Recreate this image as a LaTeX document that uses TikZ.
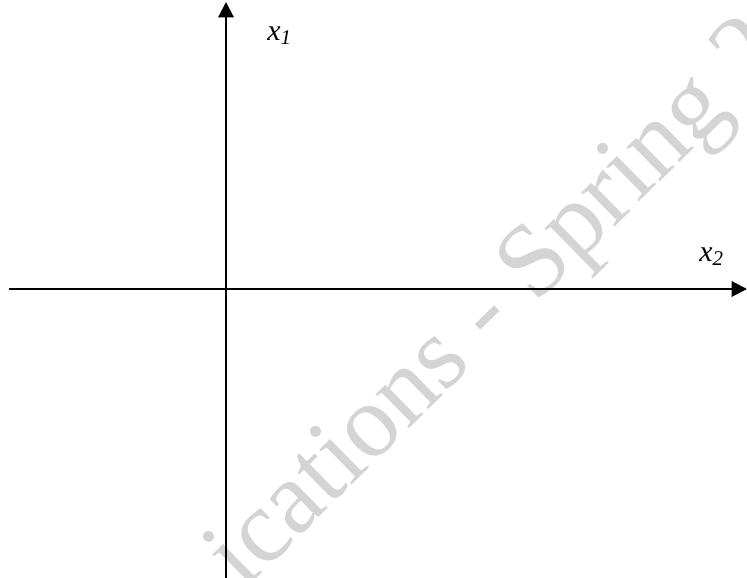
\documentclass[tikz,border=0pt]{standalone}
\usepackage{fontspec}
\setmainfont{Liberation Serif}
\usepackage{xcolor}
\usetikzlibrary{arrows.meta}
\definecolor{markgray}{RGB}{212, 212, 212}

\begin{document}
\begin{tikzpicture}[
  axis/.style={-{Triangle[length=4.4pt, width=4.4pt]}, line width=0.6pt, color=black},
  axislabel/.style={font=\fontsize{8.5}{10}\selectfont\itshape, inner sep=0pt},
  watermark/.style={font=\fontsize{29.5}{32}\selectfont, text=markgray, rotate=44.5,
    anchor=base west, inner sep=0pt}
]
  \useasboundingbox (0,0) rectangle (7.47,5.78);
  \clip (0,0) rectangle (7.47,5.78);

  % watermark
  \node[watermark] (mark) at (2.43,-0.14) {ications - Spring 2};

  % axes
  \coordinate (origin) at (2.26,2.89);
  \coordinate (left) at (0.09,2.89);
  \coordinate (right) at (7.47,2.89);
  \coordinate (bottom) at (2.26,-0.05);
  \coordinate (top) at (2.26,5.76);

  \draw[axis] (left) -- (right);
  \draw[axis] (bottom) -- (top);

  \node[axislabel] (xone) at (2.80,5.42) {x\textsubscript{1}};
  \node[axislabel] (xtwo) at (7.12,3.21) {x\textsubscript{2}};
\end{tikzpicture}
\end{document}
